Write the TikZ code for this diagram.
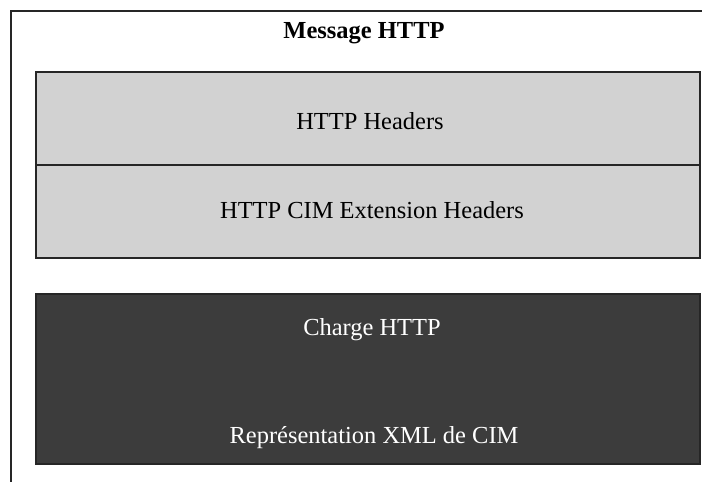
\documentclass[tikz,border=0pt]{standalone}
\usepackage{fontspec}
\setmainfont{Liberation Serif}
\usetikzlibrary{calc}
\definecolor{headgray}{HTML}{D2D2D2}
\definecolor{loadgray}{HTML}{3C3C3C}
\tikzset{
	boxline/.style={line width=1.3pt, color=black!85},
	label/.style={font=\fontsize{17.4}{20}\selectfont, inner sep=0pt}
}

\begin{document}
\begin{tikzpicture}[x=0.025cm, y=-0.025cm]
			%%%%% START %%%%%
			
			\useasboundingbox (0, 0) rectangle (702, 481);
			
			\draw[line width=1.4pt, color=black!85] (11, 490) -- (11, 11) -- (710, 11);
			\node[label, font=\fontsize{17.4}{20}\selectfont\bfseries] (msg) at (364, 33) {Message HTTP};
			
			\draw[boxline, fill=headgray] (36, 72) rectangle (700, 258);
			\draw[boxline] (36, 165) -- (700, 165);
			\node[label] (headers) at (370, 121) {HTTP Headers};
			\node[label] (cimheaders) at (372, 210) {HTTP CIM Extension Headers};
			
			\draw[boxline, fill=loadgray] (36, 294) rectangle (700, 464);
			\node[label, color=white] (charge) at (372, 330) {Charge HTTP};
			\node[label, color=white] (xmlcim) at (374, 438) {Représentation XML de CIM};
			
			%%%%% END %%%%%
		\end{tikzpicture}
\end{document}
